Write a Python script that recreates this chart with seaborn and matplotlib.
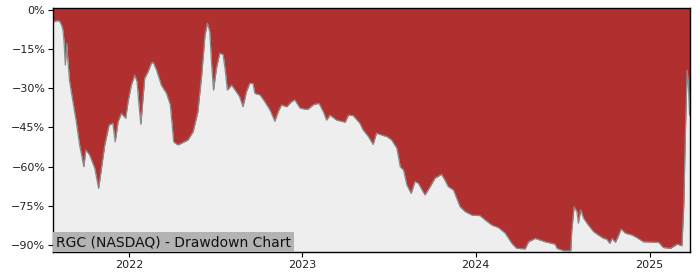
import matplotlib
matplotlib.use("Agg")
import matplotlib.pyplot as plt
import matplotlib.dates as mdates
from matplotlib.ticker import FuncFormatter, FixedLocator
import numpy as np
import pandas as pd
import seaborn as sns

# ---- data ----
start_date = "2022-01-01"
day_offset = [-160, -151, -146, -142, -139, -137, -134, -131, -129, -125, -118, -111, -104, -97, -95,
              -91, -83, -72, -64, -58, -51, -42, -34, -29, -23, -16, -7, -2, 5, 12, 17, 21, 25, 33, 40,
              47, 51, 58, 68, 79, 87, 94, 103, 124, 135, 145, 153, 160, 165, 170, 174, 178, 184, 191,
              198, 203, 207, 216, 226, 233, 240, 247, 254, 261, 265, 276, 286, 297, 307, 314, 321, 332,
              342, 349, 360, 370, 377, 389, 400, 409, 416, 423, 437, 455, 462, 472, 486, 493, 504, 514,
              521, 532, 543, 553, 564, 571, 578, 585, 594, 602, 609, 623, 634, 644, 658, 665, 672, 683,
              690, 697, 708, 722, 739, 750, 764, 778, 792, 806, 816, 834, 841, 855, 876, 897, 901, 915,
              930, 932, 937, 943, 946, 951, 957, 967, 978, 988, 999, 1006, 1012, 1017, 1024, 1031, 1036,
              1045, 1059, 1069, 1083, 1115, 1125, 1140, 1154, 1164, 1168, 1171, 1175, 1178, 1180]
drawdown_pct = [-4.7, -4.2, -4.4, -5.9, -7.8, -11.6, -21.2, -12.9, -18.5, -27.5, -35.2, -42.8, -51.7,
                -58.1, -60.0, -53.6, -55.5, -60.6, -68.3, -60.6, -51.7, -44.1, -43.4, -50.5, -42.8,
                -39.6, -41.5, -35.2, -28.8, -25.0, -27.5, -36.4, -43.8, -26.2, -23.7, -20.5, -20.1,
                -23.1, -28.8, -32.0, -36.4, -50.5, -51.7, -49.8, -46.6, -39.0, -25.0, -9.7, -5.2,
                -8.4, -21.2, -30.7, -22.4, -16.7, -17.1, -23.7, -30.7, -28.8, -31.4, -33.3, -37.1,
                -31.4, -28.2, -28.2, -32.0, -32.6, -35.2, -38.4, -42.6, -39.0, -36.4, -37.1, -35.2,
                -34.5, -37.6, -38.0, -38.0, -36.2, -35.8, -39.0, -42.2, -40.3, -42.2, -43.0, -40.3,
                -40.5, -43.4, -46.0, -48.5, -51.5, -47.2, -47.9, -48.5, -49.8, -53.0, -60.0, -61.3,
                -67.0, -70.2, -65.7, -66.3, -70.8, -67.6, -64.4, -62.9, -65.1, -67.6, -68.9, -72.1,
                -75.3, -77.2, -78.5, -78.7, -80.4, -82.3, -83.3, -85.4, -89.3, -91.2, -91.4, -88.7,
                -87.4, -88.7, -89.6, -91.2, -92.1, -92.1, -84.8, -75.3, -77.2, -81.6, -76.5, -79.7,
                -82.3, -84.8, -86.1, -87.4, -87.7, -89.3, -87.4, -88.9, -86.1, -83.8, -85.4, -86.1,
                -87.1, -88.7, -88.9, -90.9, -91.2, -89.6, -90.2, -74.6, -49.2, -23.1, -30.1, -40.3]
y_ticks_pct = [0, -15, -30, -45, -60, -75, -90]
x_tick_years = ["2022", "2023", "2024", "2025"]
title_text = "RGC (NASDAQ) - Drawdown Chart"

df = pd.DataFrame({
    "date": pd.to_datetime(start_date) + pd.to_timedelta(day_offset, unit="D"),
    "dd": np.array(drawdown_pct) / 100.0,
})

sns.set_theme(style="ticks")
plt.rcParams["font.family"] = ["DejaVu Sans"]

fig = plt.figure(figsize=(7, 2.8), dpi=100)
ax = fig.add_axes([0.0757, 0.099, 0.91, 0.874])

red = "#b03030"
bg = "#eeeeee"
ymin, ymax = -0.927, 0.008
ax.set_facecolor(red)
ax.fill_between(df["date"], df["dd"], ymin, color=bg, linewidth=0, zorder=1)
sns.lineplot(data=df, x="date", y="dd", ax=ax, color="#8a8a8a", linewidth=0.9, zorder=2)

ax.set_ylim(ymin, ymax)
ax.set_xlim(df["date"].iloc[0], df["date"].iloc[-1] + pd.Timedelta(days=1))
ax.yaxis.set_major_locator(FixedLocator([v / 100 for v in y_ticks_pct]))
ax.yaxis.set_major_formatter(FuncFormatter(lambda v, p: f"{v*100:.0f}%".replace("-", "\u2212")))
ax.xaxis.set_major_locator(FixedLocator([mdates.date2num(pd.Timestamp(y + "-01-01")) for y in x_tick_years]))
ax.xaxis.set_major_formatter(mdates.DateFormatter("%Y"))
ax.tick_params(axis="both", labelsize=8, length=3.5, width=0.8, color="black", labelcolor="#222222", pad=2)
ax.set_xlabel("")
ax.set_ylabel("")
for s in ax.spines.values():
    s.set_color("black")
    s.set_linewidth(1.0)
    s.set_visible(True)

ax.text(0.005, 0.012, title_text, transform=ax.transAxes, fontsize=10, color="#111111",
        ha="left", va="bottom", zorder=5,
        bbox=dict(facecolor="#b3b3b3", edgecolor="none", pad=2.2))

fig.savefig("out.png", dpi=100)
